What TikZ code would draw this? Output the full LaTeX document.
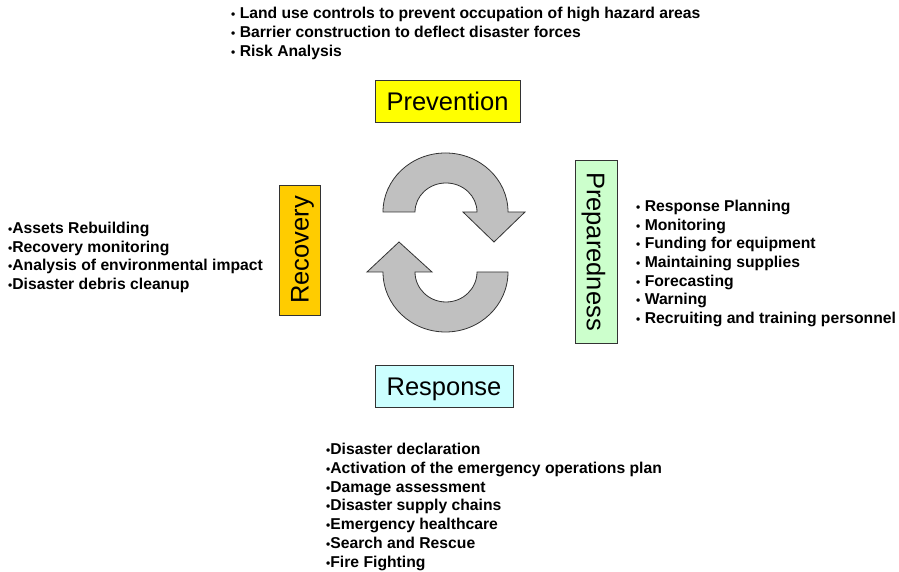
\documentclass[tikz,border=0pt]{standalone}
\usepackage{fontspec}
\setmainfont{Liberation Sans}
\definecolor{prevfill}{HTML}{FFFF00}
\definecolor{prepfill}{HTML}{CCFFCC}
\definecolor{recfill}{HTML}{FFCC00}
\definecolor{respfill}{HTML}{CCFFFF}
\definecolor{arrowfill}{HTML}{C0C0C0}
\definecolor{edge}{HTML}{333333}
\newcommand{\blt}{{\fontsize{12}{12}\selectfont •}}
\tikzset{
  phasebox/.style={draw=edge, line width=0.9pt, inner sep=0pt, text height=18.3pt, text depth=0pt,
    font=\fontsize{25.5}{30}\selectfont},
  item/.style={anchor=base west, inner sep=0pt, font=\fontsize{15.7}{18.7}\selectfont\bfseries},
  cyclearrow/.style={fill=arrowfill, draw=edge, line width=0.8pt, line join=miter}
}
\begin{document}
\begin{tikzpicture}[x=1pt,y=1pt]
\useasboundingbox (0,0) rectangle (899,572);
\fill[white] (0,0) rectangle (899,572);

% phase boxes
\node[phasebox, fill=prevfill, minimum width=145pt, minimum height=42pt] (prevention) at (447.5,471) {Prevention};
\node[phasebox, fill=prepfill, minimum width=183pt, minimum height=42pt, rotate=-90] (preparedness) at (596,320.5) {Preparedness};
\node[phasebox, fill=recfill, minimum width=130pt, minimum height=41pt, rotate=90] (recovery) at (299.5,322) {Recovery};
\node[phasebox, fill=respfill, minimum width=138pt, minimum height=42pt] (response) at (444,186) {Response};

% cycle arrows
\draw[cyclearrow] (383,360) arc[start angle=180, end angle=0, x radius=62.5, y radius=59]
  -- (525,360) -- (494,330) -- (463,360) -- (477,360)
  arc[start angle=0, end angle=180, x radius=31, y radius=29] -- cycle;
\draw[cyclearrow] (508,300) arc[start angle=0, end angle=-180, x radius=62.5, y radius=60]
  -- (367,300) -- (399,330) -- (432,300) -- (415,300)
  arc[start angle=180, end angle=360, x radius=31, y radius=30] -- cycle;

% lists
\foreach \t [count=\i] in {Land use controls to prevent occupation of high hazard areas,
  Barrier construction to deflect disaster forces, Risk Analysis}
  \node[item] (prevlist\i) at (231,{553-(\i-1)*18.7}) {\blt{} \t};

\foreach \t [count=\i] in {Response Planning, Monitoring, Funding for equipment,
  Maintaining supplies, Forecasting, Warning, Recruiting and training personnel}
  \node[item] (preplist\i) at (636,{360.5-(\i-1)*18.7}) {\blt{} \t};

\foreach \t [count=\i] in {Assets Rebuilding, Recovery monitoring,
  Analysis of environmental impact, Disaster debris cleanup}
  \node[item] (reclist\i) at (8,{338.5-(\i-1)*18.7}) {\blt\t};

\foreach \t [count=\i] in {Disaster declaration, Activation of the emergency operations plan,
  Damage assessment, Disaster supply chains, Emergency healthcare, Search and Rescue, Fire Fighting}
  \node[item] (resplist\i) at (326,{117.5-(\i-1)*18.8}) {\blt\t};
\end{tikzpicture}
\end{document}
